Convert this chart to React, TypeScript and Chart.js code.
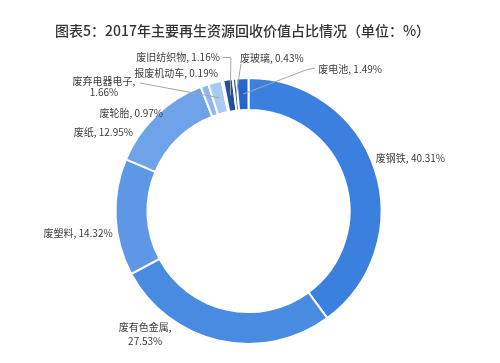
import React, { useEffect, useRef } from "react";
import { Chart, registerables } from "chart.js";

Chart.register(...registerables);

const titleText = "图表5：2017年主要再生资源回收价值占比情况（单位：%）";
const categories = ["废钢铁", "废有色金属", "废塑料", "废纸", "废轮胎", "废弃电器电子", "报废机动车", "废旧纺织物", "废玻璃", "废电池"];
const shares = [40.31, 27.53, 14.32, 12.95, 0.97, 1.66, 0.19, 1.16, 0.43, 1.49];
const sliceColors = ["#3b80de", "#4a8be2", "#5e97e6", "#6ea3e9", "#8fb8ef", "#a9caf4", "#c4dbf7", "#1f4f9e", "#2c5fb3", "#2765c8"];

type Placement = {
  dx: number;
  dy: number;
  align: CanvasTextAlign;
  wrap?: boolean;
  leader?: number[][];
};

// label placement relative to each slice's outer mid-point
const placements: Placement[] = [
  { dx: 1, dy: -11, align: "left" },
  { dx: -74, dy: -14, align: "center", wrap: true },
  { dx: -3, dy: 16, align: "right" },
  { dx: -23, dy: 17, align: "right" },
  { dx: -41.5, dy: 27.5, align: "right" },
  { dx: -111, dy: -1, align: "center", wrap: true, leader: [[-75, 0.7]] },
  { dx: -4.5, dy: -7, align: "right" },
  { dx: -8, dy: -22.3, align: "right", leader: [[-5, -22.1], [3, -22.1]] },
  { dx: 5.6, dy: -20.8, align: "left", leader: [[6.6, -14.8]] },
  { dx: 76, dy: -8.6, align: "left", leader: [[72.8, -10.1], [64.8, -8.6]] },
];

const FONT = '"Noto Sans CJK SC", "Noto Sans", sans-serif';

const labelPlugin = {
  id: "sliceLabels",
  afterDatasetsDraw(chart: any) {
    const ctx: CanvasRenderingContext2D = chart.ctx;
    const meta = chart.getDatasetMeta(0);
    ctx.save();
    ctx.font = `500 14px ${FONT}`;
    ctx.fillStyle = "#333333";
    ctx.textAlign = "center";
    ctx.textBaseline = "middle";
    ctx.fillText(titleText, 242.5, 31);

    meta.data.forEach((arc: any, i: number) => {
      const p = arc.getProps(["x", "y", "startAngle", "endAngle", "outerRadius", "innerRadius"], true);
      const mid = (p.startAngle + p.endAngle) / 2;
      const ox = p.x + Math.cos(mid) * p.outerRadius;
      const oy = p.y + Math.sin(mid) * p.outerRadius;
      const mr = (p.outerRadius + p.innerRadius) / 2;
      const mx = p.x + Math.cos(mid) * mr;
      const my = p.y + Math.sin(mid) * mr;
      const pl = placements[i];
      if (pl.leader) {
        ctx.strokeStyle = "#a6a6a6";
        ctx.lineWidth = 1;
        ctx.beginPath();
        pl.leader.forEach((pt, k) => {
          if (k === 0) ctx.moveTo(ox + pt[0], oy + pt[1]);
          else ctx.lineTo(ox + pt[0], oy + pt[1]);
        });
        ctx.lineTo(mx, my);
        ctx.stroke();
      }
      const val = shares[i].toFixed(2) + "%";
      const lines = pl.wrap ? [categories[i] + ",", val] : [categories[i] + ", " + val];
      ctx.font = `10px ${FONT}`;
      ctx.fillStyle = "#3c3c3c";
      ctx.textAlign = pl.align;
      ctx.textBaseline = "middle";
      const lh = pl.wrap && i === 1 ? 14 : 11;
      lines.forEach((ln, k) => {
        ctx.fillText(ln, ox + pl.dx, oy + pl.dy + k * lh);
      });
    });
    ctx.restore();
  },
};

export default function App() {
  const canvasRef = useRef<HTMLCanvasElement | null>(null);
  useEffect(() => {
    if (!canvasRef.current) return;
    const chart = new Chart(canvasRef.current, {
      type: "doughnut",
      data: {
        labels: categories,
        datasets: [
          {
            data: shares,
            backgroundColor: sliceColors,
            borderColor: "#ffffff",
            borderWidth: 2,
          },
        ],
      },
      options: {
        animation: false,
        responsive: true,
        maintainAspectRatio: false,
        cutout: "76%",
        layout: { padding: { top: 77, bottom: 18, left: 114.5, right: 117.5 } },
        plugins: {
          legend: { display: false },
          title: { display: false },
          tooltip: { enabled: false },
        },
      },
      plugins: [labelPlugin],
    });
    return () => chart.destroy();
  }, []);
  return (
    <div style={{ position: "absolute", left: 0, top: 0, width: 500, height: 363, background: "#fff" }}>
      <canvas ref={canvasRef} />
    </div>
  );
}
